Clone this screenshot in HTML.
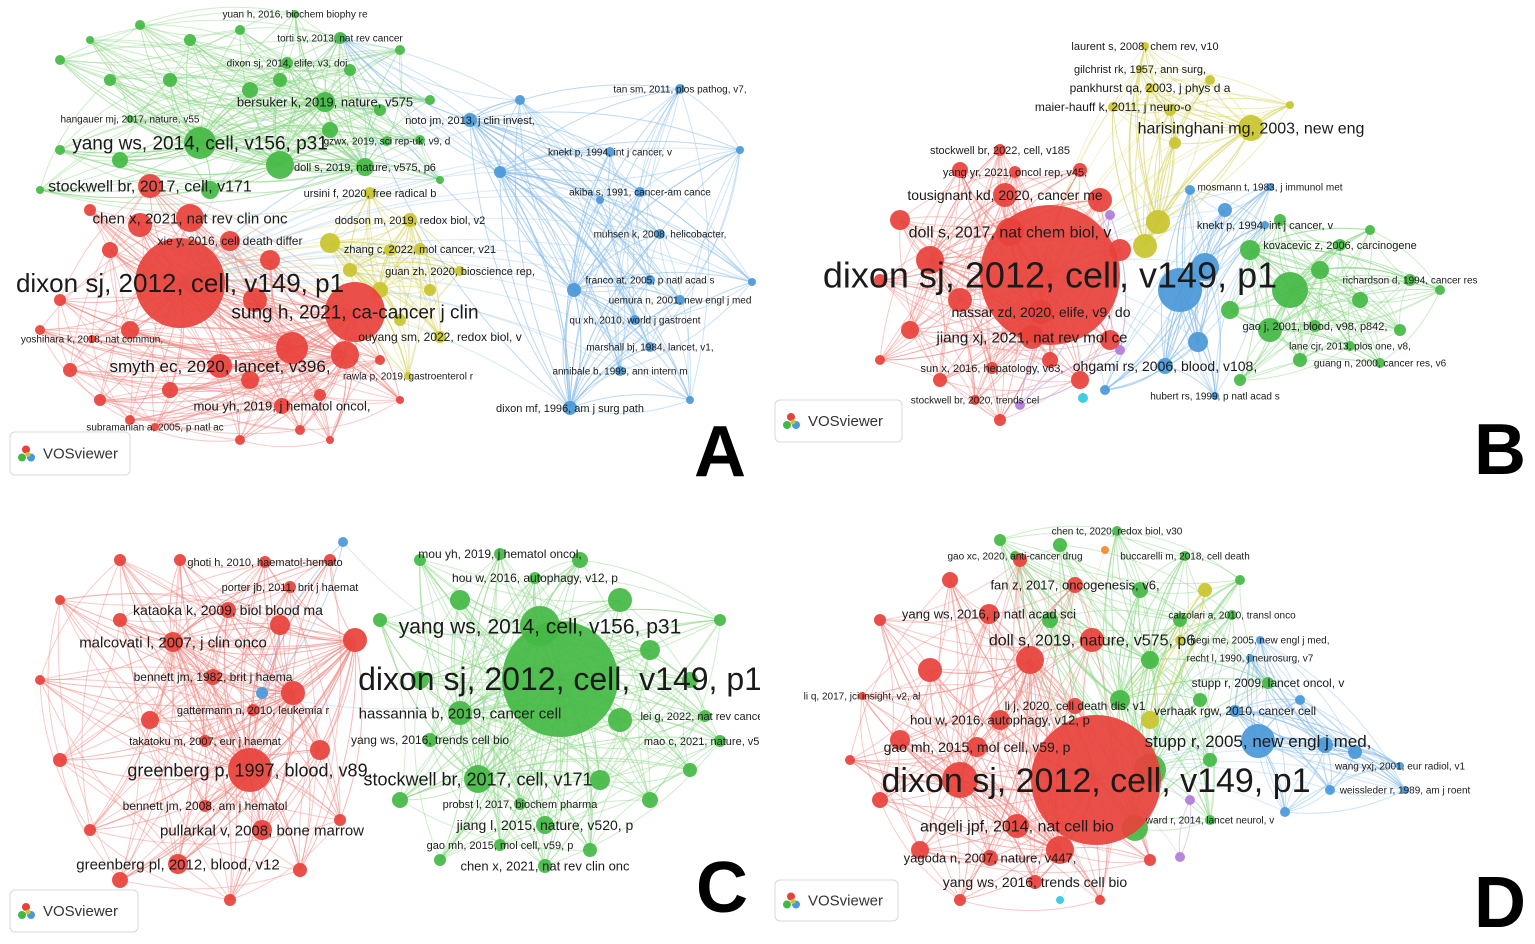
<!DOCTYPE html>
<html><head><meta charset="utf-8"><style>
html,body{margin:0;padding:0;background:#fff;}
svg{display:block;font-family:"Liberation Sans","DejaVu Sans",sans-serif;}
</style></head><body>
<svg id="net" width="1535" height="944" viewBox="0 0 1535 944" xmlns="http://www.w3.org/2000/svg">
<defs>
<clipPath id="cA"><rect x="0" y="0" width="768" height="480"/></clipPath>
<clipPath id="cB"><rect x="770" y="0" width="765" height="480"/></clipPath>
<clipPath id="cC"><rect x="0" y="482" width="760" height="462"/></clipPath>
<clipPath id="cD"><rect x="770" y="482" width="765" height="462"/></clipPath>
</defs>
</svg>
<script>
const colors = {r:'#e8413b', g:'#44b844', y:'#c9c42e', b:'#4a98d8', p:'#b07cd8', c:'#30c8e0', o:'#f08a30'};
const edgeColors = {r:'#f08a86', g:'#8fd88a', y:'#dcd870', b:'#8fc0ea', p:'#cfb0ea', c:'#90e0ee', o:'#f5b880'};

// Panel A nodes: [x, y, radius, cluster, label, fontSize]
const nodesA = [
[180,283,45,'r','dixon sj, 2012, cell, v149, p1',26],
[355,312,30,'r','sung h, 2021, ca-cancer j clin',19],
[292,348,16,'r','',0],[345,355,14,'r','',0],
[220,366,12,'r','smyth ec, 2020, lancet, v396,',17],
[150,186,12,'r','stockwell br, 2017, cell, v171',16],
[190,218,14,'r','chen x, 2021, nat rev clin onc',15],
[230,241,10,'r','xie y, 2016, cell death differ',12],
[282,406,8,'r','mou yh, 2019, j hematol oncol,',13],
[92,339,4,'r','yoshihara k, 2018, nat commun,',10],
[155,427,4,'r','subramanian a, 2005, p natl ac',10],
[60,300,6,'r','',0],[40,330,5,'r','',0],[70,370,7,'r','',0],[100,400,6,'r','',0],[130,420,5,'r','',0],
[170,390,8,'r','',0],[250,380,9,'r','',0],[320,395,6,'r','',0],[380,360,5,'r','',0],[300,430,5,'r','',0],
[240,440,5,'r','',0],[110,250,8,'r','',0],[90,210,6,'r','',0],[130,330,9,'r','',0],[270,260,10,'r','',0],
[400,400,4,'r','',0],[330,440,4,'r','',0],[140,225,12,'r','',0],[255,300,12,'r','',0],
[200,143,16,'g','yang ws, 2014, cell, v156, p31',19],
[280,165,14,'g','',0],
[325,102,10,'g','bersuker k, 2019, nature, v575',13],
[287,63,6,'g','dixon sj, 2014, elife, v3, doi',10],
[340,38,6,'g','torti sv, 2013, nat rev cancer',10],
[295,14,4,'g','yuan h, 2016, biochem biophy re',10],
[130,119,4,'g','hangauer mj, 2017, nature, v55',10],
[365,167,9,'g','doll s, 2019, nature, v575, p6',11],
[387,141,5,'g','gzwx, 2019, sci rep-uk, v9, d',10],
[60,60,5,'g','',0],[90,40,4,'g','',0],[140,25,5,'g','',0],[190,40,6,'g','',0],[240,30,5,'g','',0],
[280,80,7,'g','',0],[350,70,6,'g','',0],[400,50,5,'g','',0],[430,100,5,'g','',0],[420,140,5,'g','',0],
[380,110,6,'g','',0],[250,90,8,'g','',0],[170,80,7,'g','',0],[110,80,6,'g','',0],[60,150,5,'g','',0],
[40,190,4,'g','',0],[120,160,8,'g','',0],[440,180,4,'g','',0],[210,190,9,'g','',0],[330,130,8,'g','',0],
[330,243,10,'y','',0],[410,220,7,'y','dodson m, 2019, redox biol, v2',11],[370,193,6,'y','ursini f, 2020, free radical b',11],
[420,249,6,'y','zhang c, 2022, mol cancer, v21',11],[460,271,5,'y','guan zh, 2020, bioscience rep,',11],
[440,337,6,'y','ouyang sm, 2022, redox biol, v',12],[408,376,4,'y','rawla p, 2019, gastroenterol r',10],
[380,290,8,'y','',0],[400,320,6,'y','',0],[430,290,6,'y','',0],[350,270,7,'y','',0],[390,250,6,'y','',0],
[470,120,7,'b','noto jm, 2013, j clin invest,',11],[680,89,5,'b','tan sm, 2011, plos pathog, v7,',10],
[610,152,5,'b','knekt p, 1994, int j cancer, v',10],[640,192,5,'b','akiba s, 1991, cancer-am cance',10],
[660,234,5,'b','muhsen k, 2008, helicobacter,',10],[650,280,5,'b','franco at, 2005, p natl acad s',10],
[680,300,5,'b','uemura n, 2001, new engl j med',10],[635,320,5,'b','qu xh, 2010, world j gastroent',10],
[650,347,5,'b','marshall bj, 1984, lancet, v1,',10],[620,371,5,'b','annibale b, 1999, ann intern m',10],
[570,408,7,'b','dixon mf, 1996, am j surg path',11],[342,38,5,'b','',0],
[500,172,6,'b','',0],[520,100,5,'b','',0],[740,150,4,'b','',0],[752,282,4,'b','',0],[574,290,7,'b','',0],[600,200,4,'b','',0],[690,400,4,'b','',0]
];

const nodesB = [
[1050,275,70,'r','dixon sj, 2012, cell, v149, p1',36],
[1010,232,14,'r','doll s, 2017, nat chem biol, v',16],
[1041,312,12,'r','nassar zd, 2020, elife, v9, do',14],
[1032,337,12,'r','jiang xj, 2021, nat rev mol ce',15],
[1005,195,12,'r','tousignant kd, 2020, cancer me',14],
[1015,172,6,'r','yang yr, 2021, oncol rep, v45,',11],
[1000,150,6,'r','stockwell br, 2022, cell, v185',11],
[992,368,6,'r','sun x, 2016, hepatology, v63,',11],
[975,400,5,'r','stockwell br, 2020, trends cel',10],
[900,220,10,'r','',0],[930,260,14,'r','',0],[960,300,12,'r','',0],[910,330,9,'r','',0],[940,380,7,'r','',0],
[1000,420,6,'r','',0],[1080,380,9,'r','',0],[1110,340,10,'r','',0],[1100,200,12,'r','',0],[960,170,8,'r','',0],
[880,280,6,'r','',0],[1080,170,7,'r','',0],[1120,250,11,'r','',0],[880,360,5,'r','',0],[1050,360,8,'r','',0],
[1251,128,13,'y','harisinghani mg, 2003, new eng',16],
[1145,46,4,'y','laurent s, 2008, chem rev, v10',11],
[1140,69,4,'y','gilchrist rk, 1957, ann surg,',11],
[1150,88,5,'y','pankhurst qa, 2003, j phys d a',12],
[1113,107,5,'y','maier-hauff k, 2011, j neuro-o',12],
[1158,222,12,'y','',0],[1145,246,12,'y','',0],[1170,110,6,'y','',0],[1210,80,5,'y','',0],[1290,105,4,'y','',0],[1175,143,6,'y','',0],
[1180,290,22,'b','',0],[1205,267,14,'b','',0],[1198,342,10,'b','',0],[1225,210,7,'b','',0],[1190,190,5,'b','',0],
[1270,187,4,'b','mosmann t, 1983, j immunol met',10],[1265,225,4,'b','knekt p, 1994, int j cancer, v',11],
[1165,366,8,'b','ohgami rs, 2006, blood, v108,',14],[1215,396,4,'b','hubert rs, 1999, p natl acad s',10],
[1105,390,5,'b','',0],[1083,398,5,'c','',0],[1110,215,5,'p','',0],[1120,350,5,'p','',0],[1020,405,5,'p','',0],
[1290,290,18,'g','',0],[1340,245,6,'g','kovacevic z, 2006, carcinogene',11],[1410,280,6,'g','richardson d, 1994, cancer res',10],
[1315,326,6,'g','gao j, 2001, blood, v98, p842,',11],[1350,346,5,'g','lane cjr, 2013, plos one, v8,',10],
[1380,363,5,'g','guang n, 2000, cancer res, v6',10],
[1250,250,10,'g','',0],[1270,330,12,'g','',0],[1320,270,9,'g','',0],[1360,300,8,'g','',0],[1400,330,6,'g','',0],
[1440,290,5,'g','',0],[1300,360,7,'g','',0],[1240,380,6,'g','',0],[1280,220,6,'g','',0],[1370,230,5,'g','',0],[1230,310,9,'g','',0]
];

const nodesC = [
[560,679,58,'g','dixon sj, 2012, cell, v149, p1',32],
[540,626,20,'g','yang ws, 2014, cell, v156, p31',21],
[500,554,6,'g','mou yh, 2019, j hematol oncol,',12],
[535,578,6,'g','hou w, 2016, autophagy, v12, p',12],
[460,713,12,'g','hassannia b, 2019, cancer cell',15],
[430,740,7,'g','yang ws, 2016, trends cell bio',12],
[478,779,14,'g','stockwell br, 2017, cell, v171',18],
[520,804,6,'g','probst l, 2017, biochem pharma',11],
[545,825,9,'g','jiang l, 2015, nature, v520, p',14],
[500,845,6,'g','gao mh, 2015, mol cell, v59, p',11],
[545,866,7,'g','chen x, 2021, nat rev clin onc',13],
[705,716,6,'g','lei g, 2022, nat rev cancer,',11],
[720,741,6,'g','mao c, 2021, nature, v593, p58',11],
[420,560,6,'g','',0],[460,600,10,'g','',0],[620,600,12,'g','',0],[650,650,10,'g','',0],[690,680,8,'g','',0],
[620,720,12,'g','',0],[600,780,10,'g','',0],[650,800,8,'g','',0],[690,770,7,'g','',0],[420,680,9,'g','',0],
[400,800,8,'g','',0],[440,860,6,'g','',0],[590,850,7,'g','',0],[720,620,6,'g','',0],[380,620,7,'g','',0],[580,560,8,'g','',0],
[250,770,22,'r','greenberg p, 1997, blood, v89,',18],
[265,562,6,'r','ghoti h, 2010, haematol-hemato',11],
[290,587,6,'r','porter jb, 2011, brit j haemat',11],
[228,610,8,'r','kataoka k, 2009, biol blood ma',14],
[173,642,10,'r','malcovati l, 2007, j clin onco',15],
[213,677,8,'r','bennett jm, 1982, brit j haema',12],
[253,710,6,'r','gattermann n, 2010, leukemia r',11],
[205,741,6,'r','takatoku m, 2007, eur j haemat',11],
[205,806,6,'r','bennett jm, 2008, am j hematol',12],
[262,830,10,'r','pullarkal v, 2008, bone marrow',15],
[178,864,10,'r','greenberg pl, 2012, blood, v12',15],
[293,693,12,'r','',0],[280,625,10,'r','',0],[320,750,10,'r','',0],[355,640,12,'r','',0],[120,560,6,'r','',0],
[60,600,5,'r','',0],[40,680,5,'r','',0],[60,760,7,'r','',0],[90,830,6,'r','',0],[120,880,8,'r','',0],
[230,900,6,'r','',0],[300,870,7,'r','',0],[340,820,6,'r','',0],[330,560,6,'r','',0],[150,720,9,'r','',0],[120,620,7,'r','',0],[180,560,6,'r','',0],
[343,542,5,'b','',0],[262,693,6,'b','',0]
];

const nodesD = [
[1096,780,65,'r','dixon sj, 2012, cell, v149, p1',34],
[1092,640,12,'r','doll s, 2019, nature, v575, p6',16],
[989,614,10,'r','yang ws, 2016, p natl acad sci',13],
[1075,585,8,'r','fan z, 2017, oncogenesis, v6,',13],
[1075,706,8,'r','li j, 2020, cell death dis, v1',12],
[1000,720,10,'r','hou w, 2016, autophagy, v12, p',13],
[977,747,10,'r','gao mh, 2015, mol cell, v59, p',14],
[1017,826,12,'r','angeli jpf, 2014, nat cell bio',16],
[990,858,8,'r','yagoda n, 2007, nature, v447,',13],
[1035,882,7,'r','yang ws, 2016, trends cell bio',14],
[862,696,4,'r','li q, 2017, jci insight, v2, al',10],
[960,780,18,'r','',0],[930,670,12,'r','',0],[900,740,10,'r','',0],[880,800,8,'r','',0],[920,850,9,'r','',0],
[960,900,6,'r','',0],[1060,850,14,'r','',0],[1030,660,14,'r','',0],[950,580,8,'r','',0],[880,620,6,'r','',0],
[1150,860,6,'r','',0],[1020,560,7,'r','',0],[850,760,5,'r','',0],[1100,900,5,'r','',0],
[1150,770,16,'g','',0],[1135,828,13,'g','',0],
[1117,531,5,'g','chen tc, 2020, redox biol, v30',10],
[1015,556,5,'g','gao xc, 2020, anti-cancer drug',10],
[1185,556,5,'g','buccarelli m, 2018, cell death',10],
[1232,615,5,'g','calzolari a, 2010, transl onco',10],
[1268,683,6,'g','stupp r, 2009, lancet oncol, v',12],
[1210,820,5,'g','ward r, 2014, lancet neurol, v',10],
[1000,540,6,'g','',0],[1060,545,7,'g','',0],[1140,590,8,'g','',0],[1180,620,7,'g','',0],[1150,660,9,'g','',0],
[1200,700,7,'g','',0],[1120,700,10,'g','',0],[1050,620,8,'g','',0],[1240,580,5,'g','',0],[1210,760,7,'g','',0],
[1205,590,7,'y','',0],[1150,720,9,'y','',0],[1180,640,5,'y','',0],
[1258,741,17,'b','stupp r, 2005, new engl j med,',17],
[1235,711,6,'b','verhaak rgw, 2010, cancer cell',12],
[1260,640,4,'b','hegi me, 2005, new engl j med,',10],
[1250,658,4,'b','recht l, 1990, j neurosurg, v7',10],
[1400,766,4,'b','wang yxj, 2001, eur radiol, v1',10],
[1405,790,4,'b','weissleder r, 1989, am j roent',10],
[1325,745,8,'b','',0],[1355,752,7,'b','',0],[1285,812,5,'b','',0],[1300,700,5,'b','',0],[1330,790,5,'b','',0],
[1190,800,5,'p','',0],[1180,857,5,'p','',0],[1060,900,4,'c','',0],[1105,550,4,'o','',0]
];

const panels = [
  {id:'A', nodes:nodesA, clip:'cA', logo:[10,432,120,43], letter:[720,476]},
  {id:'B', nodes:nodesB, clip:'cB', logo:[775,400,127,42], letter:[1500,474]},
  {id:'C', nodes:nodesC, clip:'cC', logo:[10,890,128,42], letter:[722,912]},
  {id:'D', nodes:nodesD, clip:'cD', logo:[775,880,123,41], letter:[1500,927]}
];

const NS='http://www.w3.org/2000/svg';
const svg=document.getElementById('net');
function mk(tag,attrs,parent){const e=document.createElementNS(NS,tag);for(const k in attrs)e.setAttribute(k,attrs[k]);(parent||svg).appendChild(e);return e;}

panels.forEach(p=>{
  const g=mk('g',{'clip-path':'url(#'+p.clip+')'});
  
  
  const eg=mk('g',{},g);
  
  
  const byC={};
  p.nodes.forEach(n=>{(byC[n[3]]=byC[n[3]]||[]).push(n);});
  const allHubs=p.nodes.slice().sort((a,b)=>b[2]-a[2]).slice(0,3);
  function edge(a,b,c,op){
    const mx=(a[0]+b[0])/2,my=(a[1]+b[1])/2,dx=b[0]-a[0],dy=b[1]-a[1];
    const cx=mx-dy*0.15,cy=my+dx*0.15;
    const e=mk('path',{d:`M${a[0]},${a[1]} Q${cx},${cy} ${b[0]},${b[1]}`,fill:'none',stroke:edgeColors[c],'stroke-width':1,opacity:op},eg);
    
    
  }
  Object.keys(byC).forEach(c=>{
    const list=byC[c];
    const hubs=list.slice().sort((a,b)=>b[2]-a[2]).slice(0,4);
    list.forEach((n,i)=>{
      hubs.forEach(h=>{if(h!==n)edge(n,h,c,0.6);});
      for(let k=1;k<=4;k++){const m=list[(i+k*2)%list.length];if(m!==n)edge(n,m,c,0.45);}
    });
  });
  p.nodes.forEach(n=>{if(n[3]!=='g'&&n[3]!=='r'&&allHubs.indexOf(n)<0)allHubs.slice(0,1).forEach(h=>edge(n,h,n[3],0.35));});
  const ng=mk('g',{},g);
  
  
  p.nodes.slice().sort((a,b)=>a[2]-b[2]).forEach(n=>{
    const c=mk('circle',{cx:n[0],cy:n[1],r:n[2],fill:colors[n[3]],opacity:0.92},ng);
    
    
  });
  const lg=mk('g',{},g);
  
  
  p.nodes.forEach(n=>{
    if(!n[4])return;
    const t=mk('text',{x:n[0],y:n[1]+n[5]*0.35,'font-size':n[5],'text-anchor':'middle',fill:'#1a1a1a'},lg);
    t.textContent=n[4];
    
    
  });
  const [lx,ly,lw,lh]=p.logo;
  const lgo=mk('g',{});
  
  
  mk('rect',{x:lx,y:ly,width:lw,height:lh,rx:5,fill:'#fff',stroke:'#d8d8d8'},lgo);
  mk('circle',{cx:lx+16,cy:ly+lh/2-4,r:4,fill:'#e8413b'},lgo);
  mk('circle',{cx:lx+12,cy:ly+lh/2+4,r:4,fill:'#44b844'},lgo);
  mk('circle',{cx:lx+21,cy:ly+lh/2+4,r:4,fill:'#4a98d8'},lgo);
  mk('circle',{cx:lx+18,cy:ly+lh/2+1,r:2.5,fill:'#c9c42e'},lgo);
  const lt=mk('text',{x:lx+33,y:ly+lh/2+5,'font-size':15,fill:'#333'},lgo);
  lt.textContent='VOSviewer';
  const L=mk('text',{x:p.letter[0],y:p.letter[1],'font-size':72,'font-weight':'bold','text-anchor':'middle',fill:'#000'});
  L.textContent=p.id;
  
  
});
</script>
</body></html>
